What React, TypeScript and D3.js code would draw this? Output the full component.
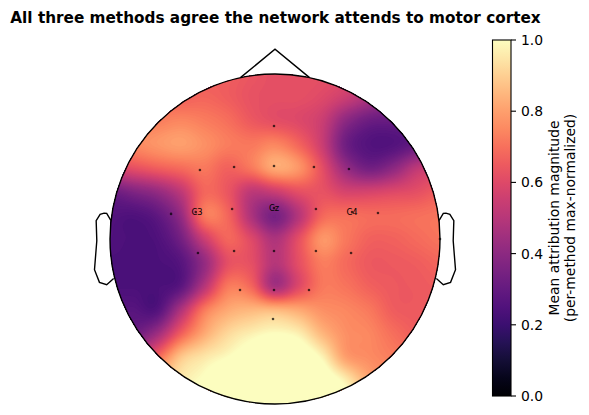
import React from "react";
import * as d3 from "d3";

const titleText = "All three methods agree the network attends to motor cortex";
const colorbarTicks = [0, 0.2, 0.4, 0.6, 0.8, 1.0];
const colorbarLabel = ["Mean attribution magnitude", "(per-method max-normalized)"];

// attribution field, sampled on a regular grid over the head (rows top to bottom)
const fieldRows: number[][] = [
  [.66,.66,.66,.66,.66,.66,.64,.62,.62,.62,.60,.56,.50,.45,.45],
  [.68,.68,.68,.67,.68,.66,.63,.62,.62,.60,.55,.48,.42,.40,.40],
  [.70,.71,.73,.75,.73,.70,.65,.62,.60,.55,.40,.32,.31,.32,.34],
  [.72,.75,.78,.80,.77,.73,.72,.75,.68,.55,.33,.26,.26,.31,.38],
  [.58,.62,.66,.69,.72,.67,.72,.82,.78,.62,.43,.34,.40,.52,.56],
  [.32,.37,.42,.52,.68,.64,.52,.55,.62,.63,.58,.58,.60,.62,.66],
  [.26,.25,.29,.42,.72,.68,.48,.35,.50,.68,.70,.69,.69,.70,.71],
  [.25,.24,.25,.34,.55,.68,.60,.48,.62,.78,.72,.67,.67,.69,.71],
  [.24,.24,.24,.27,.42,.62,.62,.50,.62,.73,.69,.65,.65,.66,.68],
  [.24,.24,.24,.28,.50,.72,.68,.46,.60,.72,.71,.67,.65,.65,.66],
  [.27,.27,.26,.48,.72,.82,.85,.85,.82,.77,.75,.72,.66,.65,.65],
  [.30,.32,.44,.66,.82,.92,.97,1.0,.97,.85,.77,.75,.70,.66,.64],
  [.42,.52,.68,.88,.95,1.0,1.08,1.15,1.1,.98,.80,.76,.73,.69,.66],
  [.62,.72,.88,.96,1.02,1.15,1.3,1.3,1.3,1.1,.97,.82,.75,.70,.66],
  [.80,.90,.96,1.0,1.1,1.3,1.3,1.3,1.3,1.2,1.05,.92,.8,.72,.68],
];

// sensor positions in head units (radius 1, +y toward the nose)
const sensorX = [-.006,-.455,-.248,-.006,.236,.448,-.63,-.26,.248,.624,-.467,-.248,-.006,.248,.461,-.212,-.006,.206,-.012,1.0,-.48,-.006,.467];
const sensorY = [.685,.418,.436,.442,.436,.424,.152,.182,.182,.158,-.085,-.073,-.073,-.073,-.085,-.309,-.309,-.309,-.485,0,.164,.188,.164];
const labelNames = ["C3", "Cz", "C4"];
const labelX = [-.473,-.006,.467];
const labelY = [.164,.188,.164];

// head outline in head units
const noseX = [-.2094, 0, .2094];
const noseY = [.978, 1.15, .978];
const earX = [.497,.510,.518,.5299,.5419,.54,.547,.532,.510,.489];
const earY = [.0555,.0775,.0783,.0746,.0555,-.0055,-.0932,-.1313,-.1384,-.1199];

const cx = 275, cy = 239, R = 165;
const hx = d3.scaleLinear().domain([-1, 1]).range([cx - R, cx + R]);
const hy = d3.scaleLinear().domain([-1, 1]).range([cy + R, cy - R]);
const color = (v: number) => d3.interpolateMagma(Math.max(0, Math.min(1, v)));

const UP = 10;
function catmull(p0: number, p1: number, p2: number, p3: number, t: number) {
  return 0.5 * (2 * p1 + (p2 - p0) * t + (2 * p0 - 5 * p1 + 4 * p2 - p3) * t * t + (3 * p1 - p0 - 3 * p2 + p3) * t * t * t);
}
function upsample(rows: number[][]) {
  const n = rows.length, m = rows[0].length;
  const W = (m - 1) * UP + 1, H = (n - 1) * UP + 1;
  const out = new Float64Array(W * H);
  const at = (j: number, i: number) => rows[Math.max(0, Math.min(n - 1, j))][Math.max(0, Math.min(m - 1, i))];
  for (let y = 0; y < H; y++) {
    const j = Math.floor(y / UP), v = y / UP - j;
    for (let x = 0; x < W; x++) {
      const i = Math.floor(x / UP), u = x / UP - i;
      const col = [-1, 0, 1, 2].map((d) =>
        catmull(at(j + d, i - 1), at(j + d, i), at(j + d, i + 1), at(j + d, i + 2), u)
      );
      out[y * W + x] = catmull(col[0], col[1], col[2], col[3], v);
    }
  }
  return { out, W, H };
}

export default function App() {
  const { out, W, H } = React.useMemo(() => upsample(fieldRows), []);
  const levels = React.useMemo(() => d3.range(0, 1.0001, 1 / 128), []);
  const paths = React.useMemo(() => {
    const contours = d3.contours().size([W, H]).thresholds(levels)(Array.from(out));
    const px = d3.scaleLinear().domain([0.5, W - 0.5]).range([cx - R, cx + R]);
    const py = d3.scaleLinear().domain([0.5, H - 0.5]).range([cy - R, cy + R]);
    const proj = d3.geoTransform({
      point(x: number, y: number) {
        (this as any).stream.point(px(x), py(y));
      },
    });
    const gp = d3.geoPath(proj);
    return contours.map((c) => ({ d: gp(c as any) || "", v: c.value }));
  }, [out, W, H, levels]);

  const cbY = d3.scaleLinear().domain([0, 1]).range([396, 40]);
  const noseLine = d3.line<number>().x((_, i) => hx(noseX[i])).y((_, i) => hy(noseY[i]))(noseX);
  const earLine = (s: number) =>
    d3.line<number>().x((_, i) => hx(s * earX[i] * 2)).y((_, i) => hy(earY[i] * 2))(earX);
  const cbStops = d3.range(0, 1.0001, 0.05);

  return (
    <svg width={589} height={415} style={{ position: "absolute", left: 0, top: 0, fontFamily: "'DejaVu Sans'" }}>
      <defs>
        <clipPath id="head"><circle cx={cx} cy={cy} r={R} /></clipPath>
        <linearGradient id="cb" x1="0" y1="1" x2="0" y2="0">
          {cbStops.map((s) => <stop key={s} offset={s} stopColor={color(s)} />)}
        </linearGradient>
      </defs>
      <text x={275.5} y={23} textAnchor="middle" fontSize={15.28} fontWeight="bold">{titleText}</text>
      <g fill="none" stroke="#000" strokeWidth={1.39}>
        <path d={noseLine!} />
        <path d={earLine(-1)!} />
        <path d={earLine(1)!} />
      </g>
      <g clipPath="url(#head)">
        <rect x={cx - R} y={cy - R} width={2 * R} height={2 * R} fill={color(0)} />
        {paths.map((p) => <path key={p.v} d={p.d} fill={color(p.v)} />)}
      </g>
      <circle cx={cx} cy={cy} r={R} fill="none" stroke="#000" strokeWidth={1.39} />
      {sensorX.map((x, i) => (
        <circle key={i} cx={hx(x)} cy={hy(sensorY[i])} r={1.3} fill="#000" fillOpacity={0.7} />
      ))}
      {labelNames.map((n, i) => (
        <text key={n} x={hx(labelX[i])} y={hy(labelY[i])} textAnchor="middle" dominantBaseline="central" fontSize={8.3}>{n}</text>
      ))}
      <rect x={492.5} y={40} width={18.5} height={356} fill="url(#cb)" stroke="#000" strokeWidth={1.1} />
      {colorbarTicks.map((t) => (
        <g key={t}>
          <line x1={511} x2={516} y1={cbY(t)} y2={cbY(t)} stroke="#000" strokeWidth={1.1} />
          <text x={521} y={cbY(t) + 5} fontSize={13.9}>{t.toFixed(1)}</text>
        </g>
      ))}
      <g transform="translate(558.5,218) rotate(-90)">
        <text textAnchor="middle" fontSize={13.9}>{colorbarLabel[0]}</text>
        <text textAnchor="middle" y={16} fontSize={13.9}>{colorbarLabel[1]}</text>
      </g>
    </svg>
  );
}
